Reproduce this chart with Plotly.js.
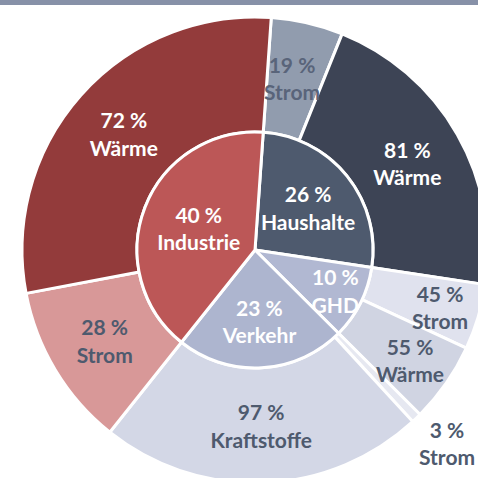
<!DOCTYPE html>
<html>
<head>
<meta charset="utf-8">
<script src="https://cdn.plot.ly/plotly-3.0.1.min.js"></script>
<style>
  body { margin: 0; overflow: hidden; background: #fff; }
  #topbar { position: absolute; left: 0; top: 0; width: 478px; height: 5px; background: #8791a8; z-index: 2; }
  #chart { position: absolute; left: 0; top: 0; }
</style>
</head>
<body>
<div id="topbar"></div>
<div id="chart"></div>
<script>
// Anteile der Sektoren (innen) und Anwendungen (außen), in %
var sectors = ['Haushalte', 'GHD', 'Verkehr', 'Industrie'];
var sectorShare = [26, 10, 23, 40];
var sectorColors = ['#4e5a6e', '#b1b8d2', '#adb5cf', '#bc5757'];

var useNames = [['Strom', 'Wärme'], ['Strom', 'Wärme'], ['Strom', 'Kraftstoffe'], ['Strom', 'Wärme']];
var useShare = [[19, 81], [45, 55], [3, 97], [28, 72]];
var useColors = [['#919cae', '#3d4455'], ['#e0e2ee', '#d0d4e2'], ['#e6e8f1', '#d3d7e6'], ['#d89898', '#933b3b']];
var useTextColors = [['#59647a', '#ffffff'], ['#4e5a6e', '#4e5a6e'], ['#4e5a6e', '#4e5a6e'], ['#4e5a6e', '#ffffff']];

// schmale Segmente: Beschriftung frei platziert (paper-Koordinaten), sonst im Segment
var labelSpots = [[[0.579, 0.869], null], [[0.897, 0.378], [0.833, 0.264]], [[0.912, 0.086], null], [null, null]];

var font = 'Lato, "Open Sans", sans-serif';
var fontSize = 21;

var outerLabels = [], outerValues = [], outerText = [], outerColors = [], outerFont = [], outerPos = [];
var notes = [];
sectors.forEach(function (s, i) {
  useNames[i].forEach(function (u, j) {
    var txt = useShare[i][j] + ' %<br>' + u;
    outerLabels.push(s + ' ' + u);
    outerValues.push(sectorShare[i] * useShare[i][j] / 100);
    outerText.push(txt);
    outerColors.push(useColors[i][j]);
    outerFont.push(useTextColors[i][j]);
    var spot = labelSpots[i][j];
    outerPos.push(spot ? 'none' : 'inside');
    if (spot) {
      notes.push({
        xref: 'paper', yref: 'paper', x: spot[0], y: spot[1],
        xanchor: 'center', yanchor: 'middle', showarrow: false,
        text: txt,
        font: { family: font, size: fontSize, color: useTextColors[i][j], weight: 'bold' }
      });
    }
  });
});

var outer = {
  type: 'pie',
  labels: outerLabels,
  values: outerValues,
  text: outerText,
  textinfo: 'text',
  textposition: outerPos,
  insidetextorientation: 'horizontal',
  textfont: { family: font, size: fontSize, color: outerFont, weight: 'bold' },
  hole: 118 / 233,
  sort: false,
  direction: 'clockwise',
  rotation: 4,
  marker: { colors: outerColors, line: { color: '#ffffff', width: 3 } },
  domain: { x: [0, 1], y: [0, 1] },
  hoverinfo: 'none',
  showlegend: false
};

var inner = {
  type: 'pie',
  labels: sectors,
  values: sectorShare,
  text: sectors.map(function (s, i) { return sectorShare[i] + ' %<br>' + s; }),
  textinfo: 'text',
  textposition: 'inside',
  insidetextorientation: 'horizontal',
  textfont: { family: font, size: fontSize, color: '#ffffff', weight: 'bold' },
  sort: false,
  direction: 'clockwise',
  rotation: 4,
  marker: { colors: sectorColors, line: { color: '#ffffff', width: 3 } },
  domain: { x: [115 / 466, 351 / 466], y: [115 / 466, 351 / 466] },
  hoverinfo: 'none',
  showlegend: false
};

var layout = {
  width: 500,
  height: 500,
  margin: { l: 22, r: 12, t: 17, b: 17 },
  paper_bgcolor: '#ffffff',
  uniformtext: { minsize: fontSize, mode: 'show' },
  annotations: notes,
  showlegend: false
};

Plotly.newPlot('chart', [outer, inner], layout, { displayModeBar: false, staticPlot: true });
</script>
</body>
</html>
